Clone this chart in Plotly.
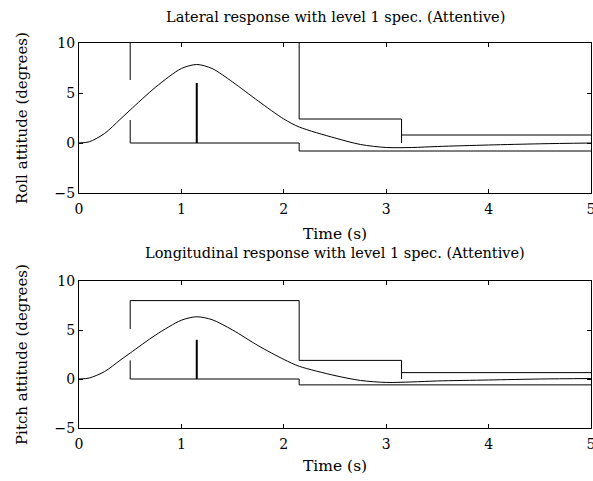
import plotly.graph_objects as go

# ---- data ----
time = [0, 0.1, 0.25, 0.4, 0.5, 0.75, 1.0, 1.15, 1.3, 1.5, 1.75, 2.0, 2.15, 2.5, 2.75, 3.0, 3.25, 3.5, 4.0, 4.5, 5.0]
roll = [0, 0.12, 0.95, 2.35, 3.3, 5.6, 7.45, 7.85, 7.45, 6.1, 4.2, 2.4, 1.6, 0.5, -0.15, -0.45, -0.45, -0.35, -0.2, -0.08, 0.0]
pitch = [0, 0.1, 0.76, 1.9, 2.65, 4.5, 6.0, 6.35, 6.05, 5.0, 3.4, 2.0, 1.3, 0.35, -0.15, -0.35, -0.3, -0.2, -0.1, 0.0, 0.05]

# spec break times
spec_t = [0.5, 1.15, 2.15, 3.15, 5.0]  # start, peak marker, mid, end, final
# spec levels: [upper box, gap top, gap bottom, second upper, final upper, lower1, lower2, peak marker]
roll_spec = [10, 6.3, 2.3, 2.4, 0.8, 0, -0.8, 6]
pitch_spec = [8, 5.1, 1.9, 1.9, 0.65, 0, -0.6, 4]

x_ticks = [0, 1, 2, 3, 4, 5]
y_ticks = [-5, 0, 5, 10]

titles = ["Lateral response with level 1 spec. (Attentive)",
          "Longitudinal response with level 1 spec. (Attentive)"]
ylabels = ["Roll attitude (degrees)", "Pitch attitude (degrees)"]
xlabel = "Time (s)"

FONT = "DejaVu Serif"
fig = go.Figure()


def spec_lines(lv):
    t0, tp, tm, te, tf = spec_t
    up, gh, gl, up2, up3, lo1, lo2, pk = lv
    xs = [t0, t0, None,
          t0, t0, tm, tm, tf, None,
          tm, tm, te, te, None,
          te, tf, None]
    ys = [up, gh, None,
          gl, lo1, lo1, lo2, lo2, None,
          up, up2, up2, lo1, None,
          up3, up3, None]
    if up < 10:
        xs += [t0, tm, None]
        ys += [up, up, None]
    return xs, ys, [tp, tp], [lo1, pk]


for i, (resp, lv) in enumerate([(roll, roll_spec), (pitch, pitch_spec)]):
    xa = "x" if i == 0 else "x2"
    ya = "y" if i == 0 else "y2"
    sx, sy, px, py = spec_lines(lv)
    fig.add_trace(go.Scatter(x=sx, y=sy, mode="lines", line=dict(color="black", width=1),
                             xaxis=xa, yaxis=ya, hoverinfo="skip", showlegend=False))
    fig.add_trace(go.Scatter(x=px, y=py, mode="lines", line=dict(color="black", width=2),
                             xaxis=xa, yaxis=ya, hoverinfo="skip", showlegend=False))
    fig.add_trace(go.Scatter(x=time, y=resp, mode="lines",
                             line=dict(color="black", width=1, shape="spline", smoothing=0.8),
                             xaxis=xa, yaxis=ya, showlegend=False))

axis_common = dict(showgrid=False, zeroline=False, showline=True, linecolor="black", linewidth=1,
                   mirror="ticks", ticks="inside", ticklen=4, tickcolor="black", tickwidth=1,
                   ticklabeloverflow="allow",
                   tickfont=dict(family=FONT, size=14, color="black"))

fig.update_layout(
    width=593, height=481,
    margin=dict(l=79, r=2, t=43, b=53, autoexpand=False),
    paper_bgcolor="white", plot_bgcolor="white",
    xaxis=dict(domain=[0, 1], range=[0, 5], tickvals=x_ticks, anchor="y", ticklabelstandoff=3, **axis_common),
    yaxis=dict(domain=[0.6104, 1], range=[-5, 10], tickvals=y_ticks, anchor="x", **axis_common),
    xaxis2=dict(domain=[0, 1], range=[0, 5], tickvals=x_ticks, anchor="y2", ticklabelstandoff=3, **axis_common),
    yaxis2=dict(domain=[0, 0.3818], range=[-5, 10], tickvals=y_ticks, anchor="x2", **axis_common),
)

H = 385.0
def py2paper(p):
    return (428 - p) / H

ann = []
for txt, ypx in [(titles[0], 17), (titles[1], 253)]:
    ann.append(dict(text=txt, x=0.5, y=py2paper(ypx), xref="paper", yref="paper",
                    showarrow=False, font=dict(family=FONT, size=14.5, color="black"),
                    xanchor="center", yanchor="middle"))
for ypx in [234, 466]:
    ann.append(dict(text=xlabel, x=0.5, y=py2paper(ypx), xref="paper", yref="paper",
                    showarrow=False, font=dict(family=FONT, size=15.5, color="black"),
                    xanchor="center", yanchor="middle"))
for txt, ypx in [(ylabels[0], 118), (ylabels[1], 355)]:
    ann.append(dict(text=txt, x=(22 - 79) / 512.0, y=py2paper(ypx), xref="paper", yref="paper",
                    showarrow=False, textangle=-90, font=dict(family=FONT, size=15, color="black"),
                    xanchor="center", yanchor="middle"))
fig.update_layout(annotations=ann)

fig.write_html("out.html", config={"displayModeBar": False},
               post_script="document.body.style.margin='0';document.body.style.overflow='hidden';")
